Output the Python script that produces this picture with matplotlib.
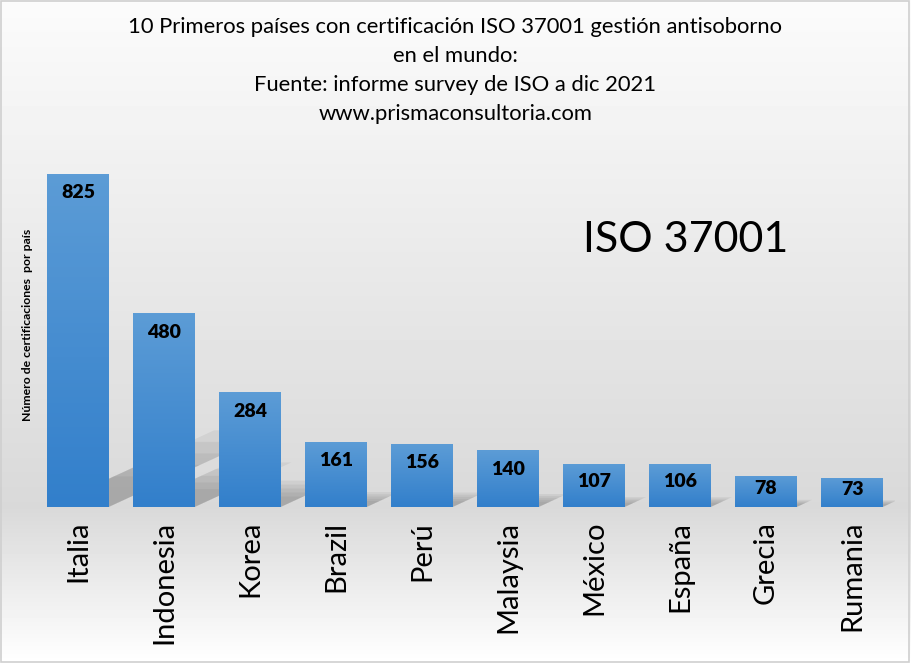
import numpy as np
import matplotlib.pyplot as plt
from matplotlib.patches import Polygon, Rectangle

paises = ['Italia', 'Indonesia', 'Korea', 'Brazil', 'Perú', 'Malaysia',
          'México', 'España', 'Grecia', 'Rumania']
certificados = [825, 480, 284, 161, 156, 140, 107, 106, 78, 73]

titulo = ['10 Primeros países con certificación ISO 37001 gestión antisoborno',
          'en el mundo:',
          'Fuente: informe survey de ISO a dic 2021',
          'www.prismaconsultoria.com']
etiqueta_y = 'Número de certificaciones  por país'
rotulo = 'ISO 37001'

plt.rcParams['font.family'] = ['Lato', 'DejaVu Sans']

W, H = 911, 663
fig = plt.figure(figsize=(W / 100, H / 100), dpi=100)

# fondo degradado: claro arriba, gris en la base de las barras, blanco abajo
bg = fig.add_axes([0, 0, 1, 1], zorder=-10)
filas = np.arange(H)
tono = np.interp(filas, [0, 507, H - 1], [0.985, 0.85, 1.0])
bg.imshow(tono[:, None], cmap='gray', vmin=0, vmax=1, aspect='auto',
          extent=[0, 1, 0, 1])
bg.add_patch(Rectangle((0.001, 0.001), 0.997, 0.997, transform=bg.transAxes,
                       fill=False, edgecolor='#cfcfcf', lw=1.2))
bg.axis('off')

ax = fig.add_axes([35 / W, (H - 507) / H, 860 / W, 367 / H])
ax.patch.set_alpha(0)
x = np.arange(len(paises))
ancho = 0.71
ymax = 909
px_y = 367 / ymax      # pixeles por unidad
px_x = 86.0            # pixeles por categoria

# sombras
for xi, v in zip(x, certificados):
    x0, x1 = xi - ancho / 2, xi + ancho / 2
    for s in [1.0, 0.85, 0.7, 0.55, 0.4]:
        dy = 0.23 * v * s
        dx = 0.5 * v * px_y / px_x * s
        ax.add_patch(Polygon([(x0, 0), (x1, 0), (x1 + dx, dy), (x0 + dx, dy)],
                             closed=True, facecolor='#6a6a6a', edgecolor='none',
                             alpha=0.1, zorder=1))

barras = ax.bar(x, certificados, width=ancho, color='none', edgecolor='none',
                zorder=3)

arriba = np.array([92, 156, 214]) / 255
abajo = np.array([50, 127, 203]) / 255
t = np.linspace(0, 1, 100)[:, None]
grad = (arriba * (1 - t) + abajo * t)[:, None, :]
for b in barras:
    im = ax.imshow(grad, aspect='auto', zorder=3,
                   extent=[b.get_x(), b.get_x() + b.get_width(), 0, b.get_height()])
    im.set_clip_path(b)

for xi, v in zip(x, certificados):
    off = min(47, v * 0.4)
    ax.text(xi, v - off, str(v), ha='center', va='center', fontsize=14,
            fontweight='heavy', color='black', zorder=5)

ax.set_xlim(-0.5, len(paises) - 0.5)
ax.set_ylim(0, ymax)
ax.set_yticks([])
ax.set_xticks(x)
ax.set_xticklabels(paises, rotation=90, fontsize=21, va='top')
ax.tick_params(axis='x', length=0, pad=10)
for sp in ax.spines.values():
    sp.set_visible(False)

fig.text(28 / W, 1 - 325 / H, etiqueta_y, rotation=90, ha='center', va='center',
         fontsize=8.8, fontweight='bold')
fig.text(686 / W, 1 - 240 / H, rotulo, ha='center', va='center', fontsize=31)

for i, linea in enumerate(titulo):
    fig.text(0.5, 1 - (27 + 29 * i) / H, linea, ha='center', va='center',
             fontsize=15.8)

fig.savefig('out.png', dpi=100)
